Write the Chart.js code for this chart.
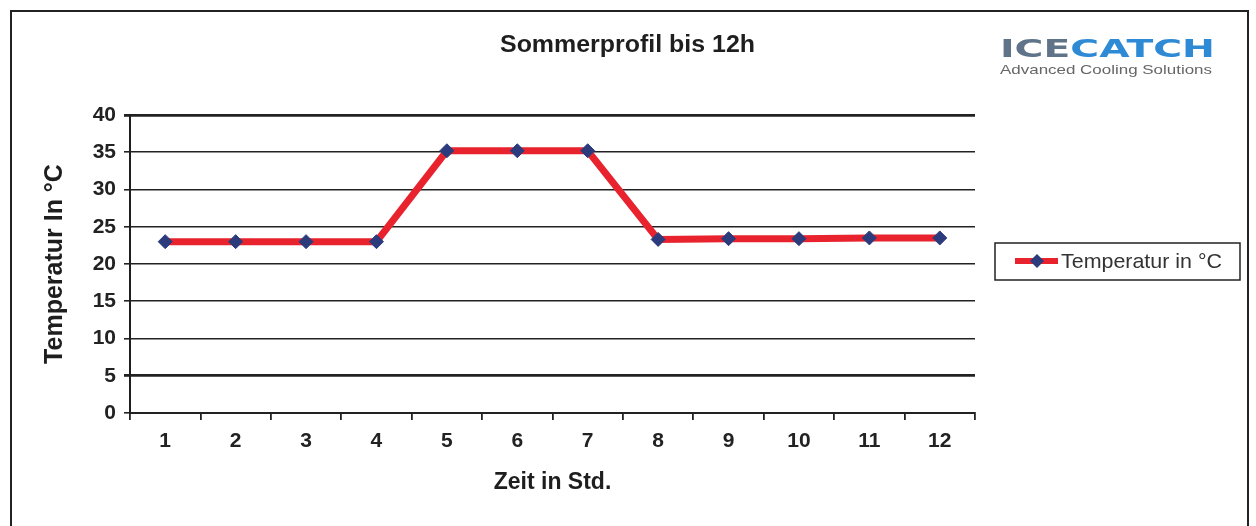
<!DOCTYPE html>
<html lang="de">
<head>
<meta charset="UTF-8">
<title>Sommerprofil bis 12h</title>
<script src="https://cdn.jsdelivr.net/npm/chart.js@4.4.0/dist/chart.umd.min.js"></script>
<style>
  html, body { margin: 0; padding: 0; background: #fff; }
  #wrap { width: 1256px; height: 526px; }
</style>
</head>
<body>
<div id="wrap"><canvas id="myChart" width="1256" height="526"></canvas></div>
<script>
// Daten
const titel = 'Sommerprofil bis 12h';
const stunden = ['1', '2', '3', '4', '5', '6', '7', '8', '9', '10', '11', '12'];
const temperatur = [23, 23, 23, 23, 35.2, 35.2, 35.2, 23.3, 23.4, 23.4, 23.5, 23.5];
const yTicks = [0, 5, 10, 15, 20, 25, 30, 35, 40];

const fontName = '"Liberation Sans", Arial, sans-serif';

// Rahmen, Titel, Logo und Legende mit Kasten
const extras = {
    id: 'extras',
    beforeDraw(chart) {
        const ctx = chart.ctx;
        ctx.save();
        ctx.fillStyle = '#fff';
        ctx.fillRect(0, 0, chart.width, chart.height);
        ctx.strokeStyle = '#222';
        ctx.lineWidth = 2;
        ctx.strokeRect(11, 11, 1237, 530);
        ctx.restore();
    },
    afterDraw(chart) {
        const ctx = chart.ctx;
        ctx.save();

        // Titel (über die ganze Breite zentriert)
        ctx.font = 'bold 23px ' + fontName;
        ctx.fillStyle = '#1e1e1e';
        ctx.textBaseline = 'middle';
        const wt = ctx.measureText(titel).width;
        ctx.translate(500, 46);
        ctx.scale(255 / wt, 1);
        ctx.fillText(titel, 0, 0);
        ctx.setTransform(1, 0, 0, 1, 0, 0);

        // Logo
        ctx.textBaseline = 'alphabetic';
        ctx.font = 'bold 28px "DejaVu Sans", sans-serif';
        const w1 = ctx.measureText('ICE').width;
        const w2 = ctx.measureText('CATCH').width;
        const sx = 215 / (w1 + w2);
        ctx.translate(1000, 57);
        ctx.scale(sx, 0.9);
        ctx.fillStyle = '#5f7489';
        ctx.fillText('ICE', 0, 0);
        ctx.fillStyle = '#2f8ad6';
        ctx.fillText('CATCH', w1, 0);
        ctx.setTransform(1, 0, 0, 1, 0, 0);
        ctx.font = '13px ' + fontName;
        ctx.fillStyle = '#666';
        const sub = 'Advanced Cooling Solutions';
        const ws = ctx.measureText(sub).width;
        ctx.translate(1000, 74);
        ctx.scale(212 / ws, 1);
        ctx.fillText(sub, 0, 0);
        ctx.setTransform(1, 0, 0, 1, 0, 0);

        // Legende
        const ds = chart.data.datasets[0];
        ctx.strokeStyle = '#222';
        ctx.lineWidth = 1.5;
        ctx.strokeRect(995, 243, 245, 37);
        ctx.strokeStyle = ds.borderColor;
        ctx.lineWidth = 6;
        ctx.beginPath();
        ctx.moveTo(1015, 261);
        ctx.lineTo(1058, 261);
        ctx.stroke();
        ctx.fillStyle = ds.pointBackgroundColor;
        ctx.beginPath();
        ctx.moveTo(1037, 254);
        ctx.lineTo(1044, 261);
        ctx.lineTo(1037, 268);
        ctx.lineTo(1030, 261);
        ctx.closePath();
        ctx.fill();
        ctx.fillStyle = '#333';
        ctx.font = '21px ' + fontName;
        ctx.textBaseline = 'middle';
        const wl = ctx.measureText(ds.label).width;
        ctx.translate(1061, 262);
        ctx.scale(161 / wl, 1);
        ctx.fillText(ds.label, 0, 0);
        ctx.restore();
    }
};

const ctx = document.getElementById('myChart').getContext('2d');
const myChart = new Chart(ctx, {
    type: 'line',
    data: {
        labels: stunden,
        datasets: [{
            label: 'Temperatur in °C',
            data: temperatur,
            borderColor: '#e8232e',
            borderWidth: 7,
            pointStyle: 'rectRot',
            pointRadius: 7,
            pointBackgroundColor: '#2b3b7c',
            pointBorderColor: '#2b3b7c',
            pointBorderWidth: 1,
            tension: 0
        }]
    },
    options: {
        responsive: false,
        animation: false,
        layout: { padding: { left: 20, right: 281, top: 115, bottom: 20 } },
        plugins: {
            legend: { display: false },
            tooltip: { enabled: false },
            title: { display: false }
        },
        scales: {
            x: {
                offset: true,
                afterFit: (s) => { s.height = 93; },
                grid: {
                    offset: true,
                    drawOnChartArea: false,
                    drawTicks: true,
                    tickLength: 7,
                    color: '#222',
                    lineWidth: 1.8
                },
                border: { display: true, color: '#222', width: 2 },
                ticks: {
                    color: '#222',
                    padding: 9,
                    font: { family: fontName, size: 21, weight: 'bold' }
                },
                title: {
                    display: true,
                    text: 'Zeit in Std.',
                    color: '#1e1e1e',
                    font: { family: fontName, size: 23, weight: 'bold' },
                    padding: { top: 10, bottom: 10 }
                }
            },
            y: {
                min: 0,
                max: 40,
                afterFit: (s) => { s.width = 110; },
                afterBuildTicks: (s) => { s.ticks = yTicks.map(v => ({ value: v })); },
                grid: {
                    color: '#222',
                    lineWidth: (c) => (c.tick && (c.tick.value === 40 || c.tick.value === 5)) ? 2.8 : 1.6,
                    drawTicks: true,
                    tickLength: 6
                },
                border: { display: true, color: '#1e1e1e', width: 2 },
                ticks: {
                    color: '#222',
                    padding: 8,
                    font: { family: fontName, size: 21, weight: 'bold' }
                },
                title: {
                    display: true,
                    text: 'Temperatur In °C',
                    color: '#1e1e1e',
                    font: { family: fontName, size: 25, weight: 'bold' },
                    padding: { top: 20, bottom: 20 }
                }
            }
        }
    },
    plugins: [extras]
});
</script>
</body>
</html>
